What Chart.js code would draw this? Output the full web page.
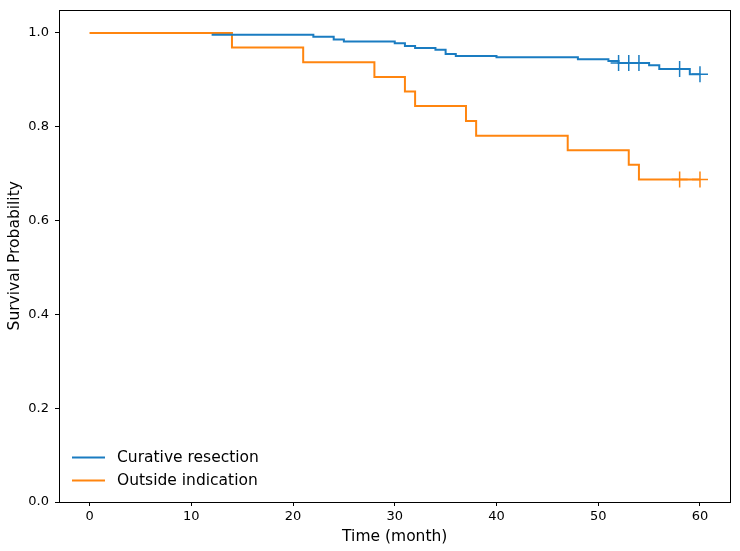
<!DOCTYPE html>
<html>
<head>
<meta charset="utf-8">
<script src="https://cdn.jsdelivr.net/npm/chart.js@4/dist/chart.umd.min.js"></script>
<style>
  html, body { margin: 0; padding: 0; background: #fff; }
  #wrap { width: 740px; height: 551px; position: relative; }
</style>
</head>
<body>
<div id="wrap"><canvas id="c" width="740" height="551"></canvas></div>
<script>
// Kaplan-Meier curves: event times and survival after each time
const seriesNames = ["Curative resection", "Outside indication"];
const curativeTimes = [12, 22, 24, 25, 30, 31, 32, 34, 35, 36, 40, 48, 51, 52, 55, 56, 59, 60];
const curativeSurv  = [0.996, 0.992, 0.986, 0.982, 0.978, 0.972, 0.968, 0.964, 0.955, 0.951, 0.948, 0.944, 0.940, 0.936, 0.931, 0.923, 0.912, 0.912];
const curativeCensorTimes = [52, 53, 54, 58, 60];
const curativeCensorSurv  = [0.936, 0.936, 0.936, 0.923, 0.912];

const outsideTimes = [0, 14, 21, 28, 31, 32, 37, 38, 47, 53, 54, 60];
const outsideSurv  = [1.0, 0.969, 0.9375, 0.906, 0.875, 0.844, 0.8125, 0.781, 0.75, 0.719, 0.6875, 0.6875];
const outsideCensorTimes = [58, 60];
const outsideCensorSurv  = [0.6875, 0.6875];

const xTicks = [0, 10, 20, 30, 40, 50, 60];
const yTicks = [0.0, 0.2, 0.4, 0.6, 0.8, 1.0];

const BLUE = '#1a7cc1';
const ORANGE = '#ff850f';
const FONT = "'DejaVu Sans', sans-serif";

const toPts = (xs, ys) => xs.map((x, i) => ({ x: x, y: ys[i] }));

const framePlugin = {
  id: 'frame',
  afterDatasetsDraw(chart) {
    const { ctx, chartArea: a } = chart;
    ctx.save();
    ctx.strokeStyle = '#000';
    ctx.lineWidth = 1;
    ctx.strokeRect(Math.round(a.left) + 0.5, Math.round(a.top) + 0.5,
                   Math.round(a.right - a.left) - 1, Math.round(a.bottom - a.top) - 1);
    // legend in lower left
    const items = [[seriesNames[0], BLUE], [seriesNames[1], ORANGE]];
    ctx.font = "15.5px " + FONT;
    ctx.textBaseline = 'middle';
    items.forEach((it, i) => {
      const y = a.top + 448 + i * 23;
      ctx.strokeStyle = it[1];
      ctx.lineWidth = 2;
      ctx.beginPath();
      ctx.moveTo(a.left + 13, y);
      ctx.lineTo(a.left + 46, y);
      ctx.stroke();
      ctx.fillStyle = '#000';
      ctx.fillText(it[0], a.left + 58, y);
    });
    ctx.restore();
  }
};

new Chart(document.getElementById('c'), {
  type: 'scatter',
  data: {
    datasets: [
      { label: seriesNames[0], data: toPts(curativeTimes, curativeSurv), showLine: true, stepped: 'before',
        borderColor: BLUE, borderWidth: 2, pointRadius: 0, fill: false },
      { label: seriesNames[1], data: toPts(outsideTimes, outsideSurv), showLine: true, stepped: 'before',
        borderColor: ORANGE, borderWidth: 2, pointRadius: 0, fill: false },
      { label: 'c1', data: toPts(curativeCensorTimes, curativeCensorSurv), showLine: false,
        pointStyle: 'cross', pointRadius: 8, borderColor: BLUE, borderWidth: 1.5, backgroundColor: BLUE },
      { label: 'c2', data: toPts(outsideCensorTimes, outsideCensorSurv), showLine: false,
        pointStyle: 'cross', pointRadius: 8, borderColor: ORANGE, borderWidth: 1.5, backgroundColor: ORANGE }
    ]
  },
  options: {
    responsive: false,
    animation: false,
    layout: { padding: { top: 9, right: 9, left: 0, bottom: 0 } },
    plugins: { legend: { display: false }, tooltip: { enabled: false } },
    elements: { point: { hoverRadius: 8 } },
    scales: {
      x: {
        type: 'linear', min: -3, max: 63,
        afterBuildTicks: s => { s.ticks = xTicks.map(v => ({ value: v })); },
        afterFit: s => { s.height = 49; s.paddingLeft = 0; s.paddingRight = 0; },
        grid: { display: true, drawOnChartArea: false, drawTicks: true, tickLength: 4, color: '#000', tickWidth: 1 },
        border: { display: false },
        ticks: { color: '#000', padding: 3, font: { family: FONT, size: 13 }, maxRotation: 0,
                 callback: v => String(v) },
        title: { display: true, text: 'Time (month)', color: '#000', font: { family: FONT, size: 15.5 },
                 padding: { top: 0, bottom: 5 } }
      },
      y: {
        type: 'linear', min: 0, max: 1.05,
        afterBuildTicks: s => { s.ticks = yTicks.map(v => ({ value: v })); },
        afterFit: s => { s.width = 59; s.paddingTop = 0; s.paddingBottom = 0; },
        grid: { display: true, drawOnChartArea: false, drawTicks: true, tickLength: 4, color: '#000', tickWidth: 1 },
        border: { display: false },
        ticks: { color: '#000', padding: 6, font: { family: FONT, size: 13 },
                 callback: v => Number(v).toFixed(1) },
        title: { display: true, text: 'Survival Probability', color: '#000', font: { family: FONT, size: 15.5 },
                 padding: { top: 6, bottom: 0 } }
      }
    }
  },
  plugins: [framePlugin]
});
</script>
</body>
</html>
